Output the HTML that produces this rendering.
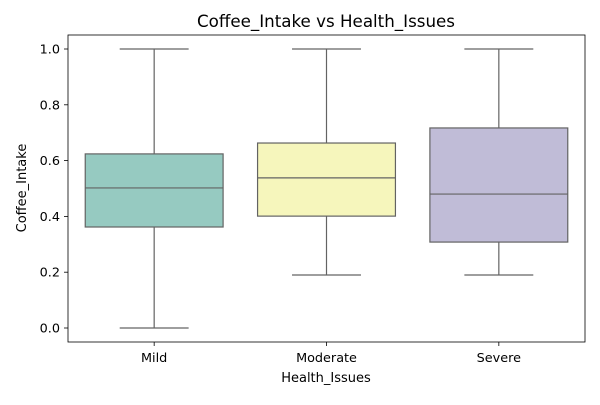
<!DOCTYPE html>
<html><head><meta charset="utf-8"><style>body{margin:0;background:#fff}svg text{font-family:"DejaVu Sans","Liberation Sans",sans-serif;fill:#000}</style></head>
<body>
<svg id="c" width="600" height="400">
<rect x="0" y="0" width="600" height="400" fill="#fff"/>
<text x="326" y="27" font-size="16.7" text-anchor="middle">Coffee_Intake vs Health_Issues</text>
<text x="326" y="382" font-size="13" text-anchor="middle">Health_Issues</text>
<text transform="translate(26,188) rotate(-90)" font-size="13" text-anchor="middle">Coffee_Intake</text>
<g id="plot"></g>
<rect x="68" y="35" width="517" height="307" fill="none" stroke="#000" stroke-width="0.8"/>
</svg>
<script>
const categories=["Mild","Moderate","Severe"];
const whiskerLow=[0.0,0.19,0.19];
const q1=[0.362,0.401,0.308];
const median=[0.502,0.538,0.48];
const q3=[0.624,0.663,0.717];
const whiskerHigh=[1.0,1.0,1.0];
const yTicks=[0.0,0.2,0.4,0.6,0.8,1.0];
const colors=["#96cac1","#f6f6bc","#c0bcd7"];
const L=68,R=585,ns="http://www.w3.org/2000/svg";
const y=v=>328-v*279;
const xc=i=>L+(R-L)*(i+0.5)/categories.length;
const bw=(R-L)/categories.length*0.8;
const g=document.getElementById('plot');
function mk(t,a){const e=document.createElementNS(ns,t);for(const k in a)e.setAttribute(k,a[k]);g.appendChild(e);return e;}
yTicks.forEach(v=>{
 const t=mk('line',{x1:L-4,x2:L,y1:y(v),y2:y(v),stroke:'#000','stroke-width':0.8});
 
 
 const l=mk('text',{x:L-8,y:y(v)+4.5,'font-size':12.8,'text-anchor':'end'});l.textContent=v.toFixed(1);
 
 
});
categories.forEach((c,i)=>{
 const x=xc(i),st={stroke:'#636363','stroke-width':1.2,fill:'none'};
 const w1=mk('line',Object.assign({x1:x,x2:x,y1:y(whiskerLow[i]),y2:y(q1[i])},st));
 
 
 const w2=mk('line',Object.assign({x1:x,x2:x,y1:y(q3[i]),y2:y(whiskerHigh[i])},st));
 
 
 [whiskerLow[i],whiskerHigh[i]].forEach(v=>{const cap=mk('line',Object.assign({x1:x-bw/4,x2:x+bw/4,y1:y(v),y2:y(v)},st));
 
 });
 const b=mk('rect',{x:x-bw/2,y:y(q3[i]),width:bw,height:y(q1[i])-y(q3[i]),fill:colors[i],stroke:'#636363','stroke-width':1.2});
 
 
 const m=mk('line',Object.assign({x1:x-bw/2,x2:x+bw/2,y1:y(median[i]),y2:y(median[i])},st));
 
 
 const t=mk('line',{x1:x,x2:x,y1:342,y2:346,stroke:'#000','stroke-width':0.8});
 
 
 const l=mk('text',{x:x,y:362,'font-size':12.8,'text-anchor':'middle'});l.textContent=c;
 
 
});
</script>
</body></html>
